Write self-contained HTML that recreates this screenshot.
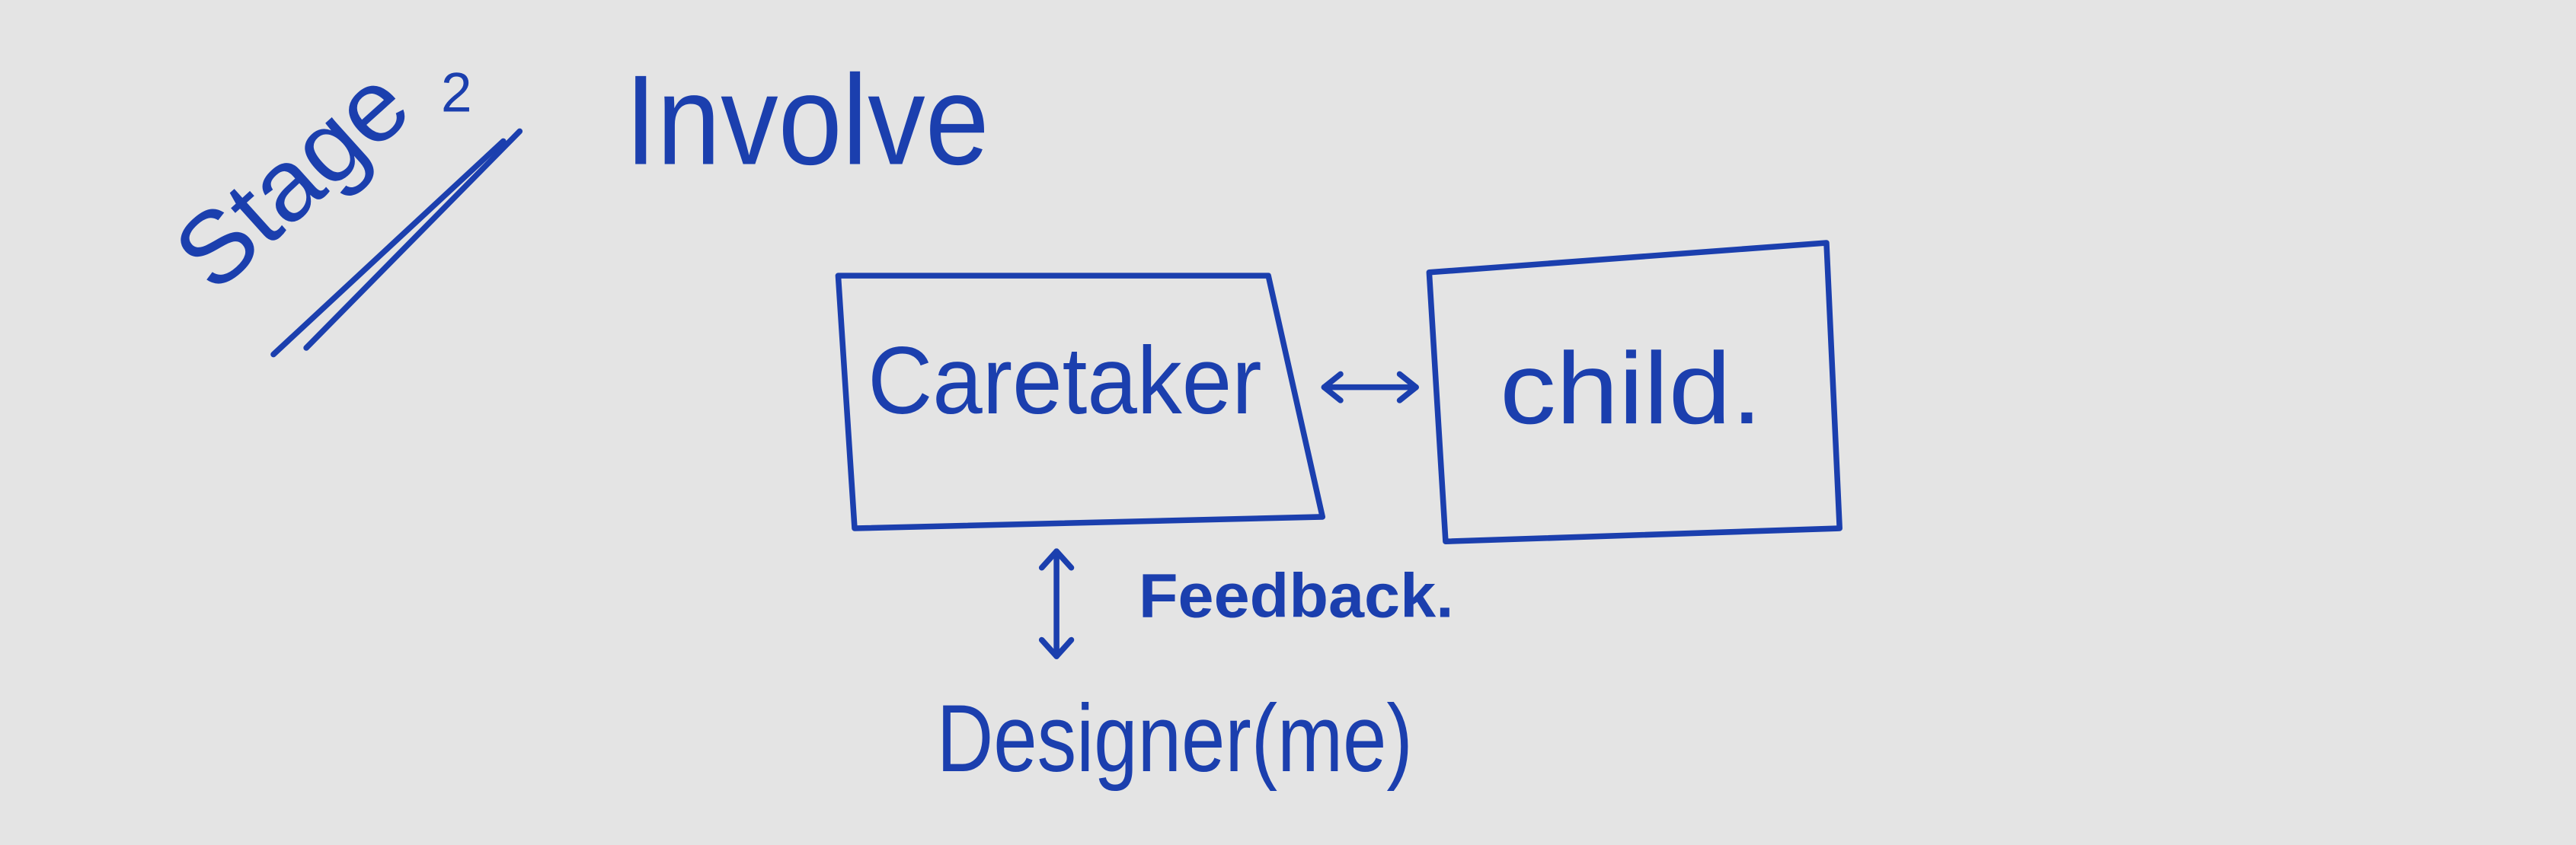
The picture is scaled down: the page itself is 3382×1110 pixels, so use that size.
<!DOCTYPE html>
<html><head><meta charset="utf-8"><style>
html,body{margin:0;padding:0;background:#e4e4e4;}
svg{display:block;}
text{font-family:"Liberation Sans",sans-serif;fill:#1b3fae;}
</style></head><body>
<svg width="3382" height="1110" viewBox="0 0 1568 515" xmlns="http://www.w3.org/2000/svg">
<rect width="1568" height="515" fill="#e4e4e4"/>
<g stroke="#1b3fae" stroke-width="3.5" fill="none" stroke-linecap="round" stroke-linejoin="round">
<polygon points="510,168 772,168 805,315 520,322"/>
<polygon points="870,166 1112,148 1120,322 880,330"/>
<line x1="166" y1="216" x2="306" y2="86"/>
<line x1="186" y1="212" x2="316" y2="80"/>
<line x1="806" y1="236" x2="862" y2="236"/>
<polyline points="816,228 806,236 816,244"/>
<polyline points="852,228 862,236 852,244"/>
<line x1="643" y1="336" x2="643" y2="400"/>
<polyline points="634,346 643,336 652,346"/>
<polyline points="634,390 643,400 652,390"/>
</g>
<text x="0" y="0" font-size="62" transform="translate(130,180) rotate(-42)" textLength="165" lengthAdjust="spacingAndGlyphs">Stage</text>
<text x="268" y="68" font-size="34">2</text>
<text x="380" y="100" font-size="78" textLength="222" lengthAdjust="spacingAndGlyphs">Involve</text>
<text x="528" y="252" font-size="58" textLength="240" lengthAdjust="spacingAndGlyphs">Caretaker</text>
<text x="913" y="258" font-size="62" textLength="160" lengthAdjust="spacingAndGlyphs">child.</text>
<text x="693" y="376" font-size="38" font-weight="bold" textLength="192" lengthAdjust="spacingAndGlyphs">Feedback.</text>
<text x="570" y="470" font-size="58" textLength="290" lengthAdjust="spacingAndGlyphs">Designer(me)</text>
</svg>
</body></html>
